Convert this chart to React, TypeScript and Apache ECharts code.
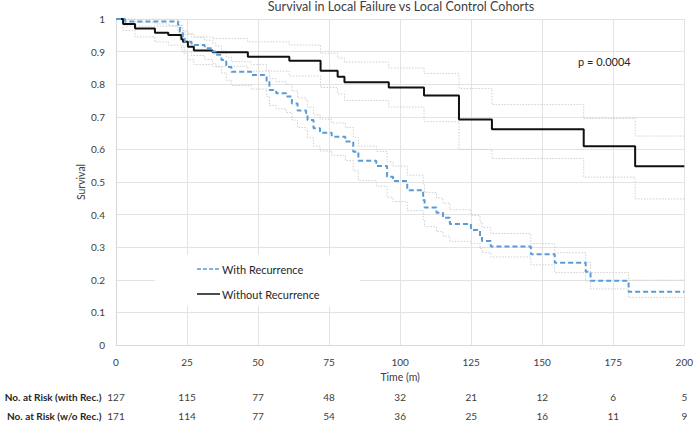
import React, { useEffect, useRef } from "react";
import * as echarts from "echarts";

const TITLE = "Survival in Local Failure vs Local Control Cohorts";
const X_TICKS = [0, 25, 50, 75, 100, 125, 150, 175, 200];
const RISK_WITH = [127, 115, 77, 48, 32, 21, 12, 6, 5];
const RISK_WITHOUT = [171, 114, 77, 54, 36, 25, 16, 11, 9];

// Without recurrence (black, solid)
const blackTimes = [0, 2.5, 6.7, 13.7, 18.4, 23, 23.6, 25.3, 27.4, 34, 46.4, 61, 72, 78, 80.4, 96, 108.4, 120.7, 132.3, 164.6, 182.7];
const blackSurv = [1, 0.985, 0.971, 0.958, 0.951, 0.938, 0.93, 0.915, 0.903, 0.898, 0.884, 0.872, 0.841, 0.823, 0.806, 0.79, 0.765, 0.692, 0.662, 0.61, 0.548];
const blackUpper = [1, 1, 0.99, 0.985, 0.98, 0.97, 0.965, 0.955, 0.945, 0.94, 0.93, 0.92, 0.895, 0.88, 0.868, 0.85, 0.833, 0.787, 0.738, 0.695, 0.641];
const blackLower = [1, 0.965, 0.945, 0.93, 0.92, 0.905, 0.895, 0.875, 0.86, 0.855, 0.84, 0.825, 0.79, 0.77, 0.75, 0.73, 0.685, 0.6, 0.572, 0.515, 0.448];

// With recurrence (blue, dashed)
const blueTimes = [0, 3.2, 21.8, 22.5, 23.5, 24.2, 26.6, 31.2, 34, 35.1, 37.1, 38.8, 40.6, 47.6, 53, 54, 56.4, 59.9, 61.9, 63.9, 66.9, 67.4, 69.5, 71.8, 75.9, 80.7, 83.5, 85.3, 91.6, 95.4, 97.5, 102.5, 108.1, 108.6, 112.8, 115.1, 117.5, 124.9, 128.1, 128.8, 131.9, 146, 154.4, 165.3, 167, 180.4];
const blueSurv = [1, 0.992, 0.982, 0.961, 0.94, 0.93, 0.92, 0.91, 0.9, 0.89, 0.874, 0.853, 0.838, 0.828, 0.808, 0.782, 0.772, 0.762, 0.741, 0.719, 0.711, 0.69, 0.665, 0.651, 0.639, 0.624, 0.593, 0.565, 0.549, 0.516, 0.503, 0.475, 0.445, 0.422, 0.406, 0.39, 0.371, 0.353, 0.334, 0.319, 0.302, 0.278, 0.252, 0.225, 0.197, 0.163];
const blueUpper = [1, 1, 0.995, 0.98, 0.962, 0.953, 0.944, 0.935, 0.926, 0.917, 0.902, 0.883, 0.869, 0.86, 0.842, 0.817, 0.808, 0.799, 0.779, 0.758, 0.75, 0.73, 0.706, 0.693, 0.681, 0.667, 0.637, 0.61, 0.594, 0.562, 0.549, 0.521, 0.491, 0.468, 0.451, 0.435, 0.415, 0.397, 0.377, 0.361, 0.342, 0.311, 0.283, 0.254, 0.222, 0.199];
const blueLower = [1, 0.978, 0.96, 0.935, 0.912, 0.9, 0.888, 0.876, 0.864, 0.853, 0.835, 0.812, 0.796, 0.785, 0.763, 0.735, 0.724, 0.713, 0.69, 0.667, 0.658, 0.636, 0.61, 0.595, 0.582, 0.566, 0.534, 0.504, 0.487, 0.453, 0.44, 0.412, 0.384, 0.363, 0.348, 0.334, 0.318, 0.312, 0.296, 0.283, 0.27, 0.246, 0.222, 0.196, 0.172, 0.146];

const X_END = 200;
const FONT = "Lato";

function toSteps(times: number[], vals: number[]) {
  const d: number[][] = times.map((t, i) => [t, vals[i]]);
  d.push([X_END, vals[vals.length - 1]]);
  return d;
}

export default function App() {
  const ref = useRef<HTMLDivElement>(null);
  useEffect(() => {
    if (!ref.current) return;
    const chart = echarts.init(ref.current, null, { renderer: "svg" });
    const ciStyle = { color: "#cfcfcf", width: 1, type: [1.5, 1.5] as number[] };
    const riskAxis = (offset: number, name: string, arr: number[]) => ({
      type: "value",
      gridIndex: 0,
      position: "bottom",
      offset,
      min: 0,
      max: 200,
      interval: 25,
      name,
      nameLocation: "start",
      nameGap: 13,
      nameTextStyle: { fontFamily: FONT, fontSize: 10, fontWeight: "bold", color: "#262626", verticalAlign: "top", align: "right" },
      axisLine: { show: false },
      axisTick: { show: false },
      splitLine: { show: false },
      axisLabel: {
        margin: 0,
        fontFamily: FONT,
        fontSize: 10,
        color: "#404040",
        formatter: (v: number) => {
          const i = X_TICKS.indexOf(v);
          return i >= 0 ? String(arr[i]) : "";
        },
      },
    });
    chart.setOption({
      animation: false,
      backgroundColor: "#ffffff",
      title: {
        text: TITLE,
        left: 401,
        top: 0,
        padding: 0,
        textAlign: "center",
        textStyle: { fontFamily: FONT, fontSize: 12.6, fontWeight: "normal", color: "#404040" },
      },
      grid: { left: 116, right: 10, top: 19, bottom: 78, containLabel: false },
      xAxis: [
        {
          type: "value",
          min: 0,
          max: 200,
          interval: 25,
          name: "Time (m)",
          nameLocation: "middle",
          nameGap: 25,
          nameTextStyle: { fontFamily: FONT, fontSize: 10.5, color: "#404040" },
          axisLine: { show: true, lineStyle: { color: "#d9d9d9" } },
          axisTick: { show: false },
          splitLine: { show: true, lineStyle: { color: "#e3e3e3", width: 1 } },
          axisLabel: { margin: 12, fontFamily: FONT, fontSize: 10, color: "#404040" },
        },
        riskAxis(47, "No. at Risk (with Rec.)", RISK_WITH),
        riskAxis(66, "No. at Risk (w/o Rec.)", RISK_WITHOUT),
      ],
      yAxis: {
        type: "value",
        min: 0,
        max: 1,
        interval: 0.1,
        name: "Survival",
        nameLocation: "middle",
        nameGap: 30,
        nameMoveOverlap: false,
        nameTextStyle: { fontFamily: FONT, fontSize: 10.5, color: "#404040" },
        axisLine: { show: true, lineStyle: { color: "#d9d9d9" } },
        axisTick: { show: false },
        splitLine: { show: true, lineStyle: { color: "#e3e3e3", width: 1 } },
        axisLabel: { margin: 11, fontFamily: FONT, fontSize: 10, color: "#404040" },
      },
      series: [
        { type: "line", name: "CI w/o upper", step: "end", data: toSteps(blackTimes, blackUpper), showSymbol: false, symbol: "none", lineStyle: ciStyle, z: 1 },
        { type: "line", name: "CI w/o lower", step: "end", data: toSteps(blackTimes, blackLower), showSymbol: false, symbol: "none", lineStyle: ciStyle, z: 1 },
        { type: "line", name: "CI with upper", step: "end", data: toSteps(blueTimes, blueUpper), showSymbol: false, symbol: "none", lineStyle: ciStyle, z: 1 },
        { type: "line", name: "CI with lower", step: "end", data: toSteps(blueTimes, blueLower), showSymbol: false, symbol: "none", lineStyle: ciStyle, z: 1 },
        {
          type: "line",
          name: "Without Recurrence",
          step: "end",
          data: toSteps(blackTimes, blackSurv),
          showSymbol: false,
          symbol: "none",
          lineStyle: { color: "#111111", width: 2 },
          z: 3,
        },
        {
          type: "line",
          name: "With Recurrence",
          step: "end",
          data: toSteps(blueTimes, blueSurv),
          showSymbol: false,
          symbol: "none",
          lineStyle: { color: "#5b9bd5", width: 2, type: [5, 3] },
          z: 4,
        },
      ],
      graphic: [
        { type: "rect", z: 100, shape: { x: 155, y: 255, width: 205, height: 51 }, style: { fill: "#ffffff" } },
        { type: "line", z: 101, shape: { x1: 197, y1: 269, x2: 220, y2: 269 }, style: { stroke: "#5b9bd5", lineWidth: 1.5, lineDash: [4, 2] } },
        { type: "text", z: 101, x: 222, y: 269, style: { text: "With Recurrence", fontFamily: FONT, fontSize: 11, fill: "#262626", textVerticalAlign: "middle" } },
        { type: "line", z: 101, shape: { x1: 197, y1: 294, x2: 220, y2: 294 }, style: { stroke: "#111111", lineWidth: 1.5 } },
        { type: "text", z: 101, x: 222, y: 294, style: { text: "Without Recurrence", fontFamily: FONT, fontSize: 11, fill: "#262626", textVerticalAlign: "middle" } },
        { type: "text", z: 101, x: 578, y: 61, style: { text: "p = 0.0004", fontFamily: FONT, fontSize: 11, fill: "#262626", textVerticalAlign: "middle" } },
      ],
    });
    return () => chart.dispose();
  }, []);
  return <div ref={ref} style={{ width: 696, height: 423, position: "absolute", left: 0, top: 0 }} />;
}
